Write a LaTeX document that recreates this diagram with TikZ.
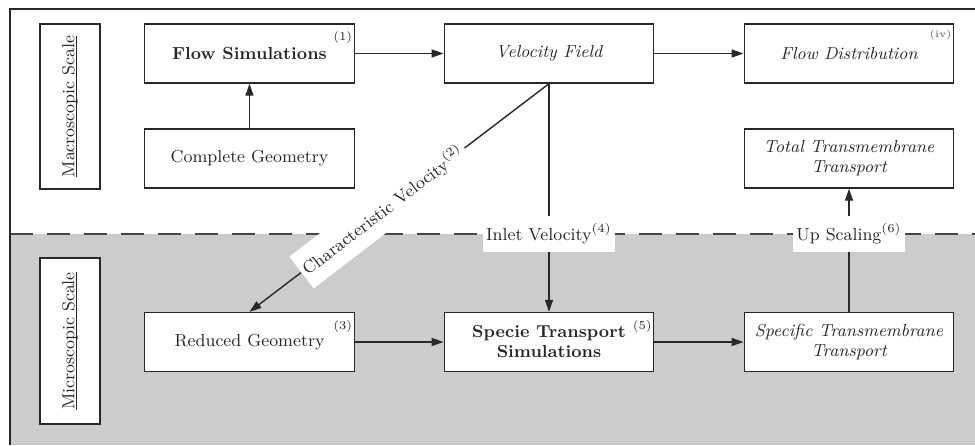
\documentclass[tikz,border=0pt]{standalone}
\usetikzlibrary{arrows.meta,calc}
\definecolor{bggray}{RGB}{203,204,203}
\definecolor{ink}{RGB}{40,40,40}
\definecolor{dashcol}{RGB}{70,70,70}
% underline that sits just under the baseline, crossing descenders
\newcommand\baseul[1]{{\setbox0\hbox{#1}\rlap{\rule[-1.3pt]{\wd0}{0.5pt}}\box0}}
\begin{document}
\begin{tikzpicture}[x=0.5pt,y=-0.5pt,
  font=\fontsize{8.7}{10}\selectfont,
  every node/.style={text=ink},
  stage/.style={draw=ink, fill=white, line width=0.7pt,
    minimum width=104.75pt, minimum height=29.5pt, inner sep=1pt, align=center},
  scalebox/.style={draw=ink, fill=white, line width=0.7pt, rotate=90,
    minimum width=82.5pt, minimum height=30pt, inner sep=1pt},
  corner/.style={font=\fontsize{6}{7}\selectfont, inner sep=0pt,
    anchor=north east, xshift=-1.2pt, yshift=-4pt},
  roman/.style={font=\fontsize{5}{6}\selectfont, inner sep=0pt, text=ink!80,
    anchor=north east, xshift=-1.2pt, yshift=-3pt},
  lbl/.style={fill=white, inner xsep=1.5pt, inner ysep=1pt, minimum height=18pt},
  conn/.style={draw=ink, line width=0.7pt},
  tip/.style={-{Triangle[length=6pt,width=4pt]}}
]
\useasboundingbox (0,0) rectangle (975,445);

% microscopic band and the dashed separator
\fill[bggray] (10,234) rectangle (975,445);
\draw[dashcol, line width=1pt, dash pattern=on 11.5pt off 7pt] (10,234) -- (975,234);
% outer frame
\draw[ink, line width=0.7pt] (975,9) -- (10,9) -- (10,445);

% scale captions
\node[scalebox] (macro) at (70,106.5) {\baseul{Macroscopic Scale}};
\node[scalebox, minimum width=83pt] (micro) at (70,341) {\baseul{Microscopic Scale}};

% macroscopic stages
\node[stage, label={[corner]north east:(1)}] (FS) at (249.5,53.5) {\textbf{Flow Simulations}};
\node[stage] (CG) at (249.5,158.5) {Complete Geometry};
\node[stage] (VF) at (549,53.5) {\itshape Velocity Field};
\node[stage, label={[roman]north east:(iv)}] (FD) at (849,53.5) {\itshape Flow Distribution};
\node[stage] (TT) at (849,158.5) {\itshape Total Transmembrane\\\itshape Transport};

% microscopic stages
\node[stage, label={[corner]north east:(3)}] (RG) at (249.5,342) {Reduced Geometry};
\node[stage, label={[corner]north east:(5)}] (SP) at (549,342) {\textbf{Specie Transport}\\\textbf{Simulations}};
\node[stage] (ST) at (849,342) {\itshape Specific Transmembrane\\\itshape Transport};

% coupling labels
\node[lbl, rotate=37.45, minimum height=20pt] (cv) at ($(VF.south)!0.555!(RG.north)$)
  {Characteristic Velocity\textsuperscript{(2)}};
\node[lbl] (inlet) at (549,234) {Inlet Velocity\textsuperscript{(4)}};
\node[lbl] (up) at (849,234) {Up Scaling\textsuperscript{(6)}};

% connectors
\draw[conn, tip] (CG) -- (FS);
\draw[conn, tip] (FS) -- (VF);
\draw[conn, tip] (VF) -- (FD);
\draw[conn] (VF.south) -- (cv);
\draw[conn, tip] (cv) -- (RG.north);
\draw[conn] (VF.south) -- (inlet);
\draw[conn, tip] (inlet) -- (SP.north);
\draw[conn, tip] (RG) -- (SP);
\draw[conn, tip] (SP) -- (ST);
\draw[conn] (ST.north) -- (up);
\draw[conn, tip] (up) -- (TT.south);
\end{tikzpicture}
\end{document}
